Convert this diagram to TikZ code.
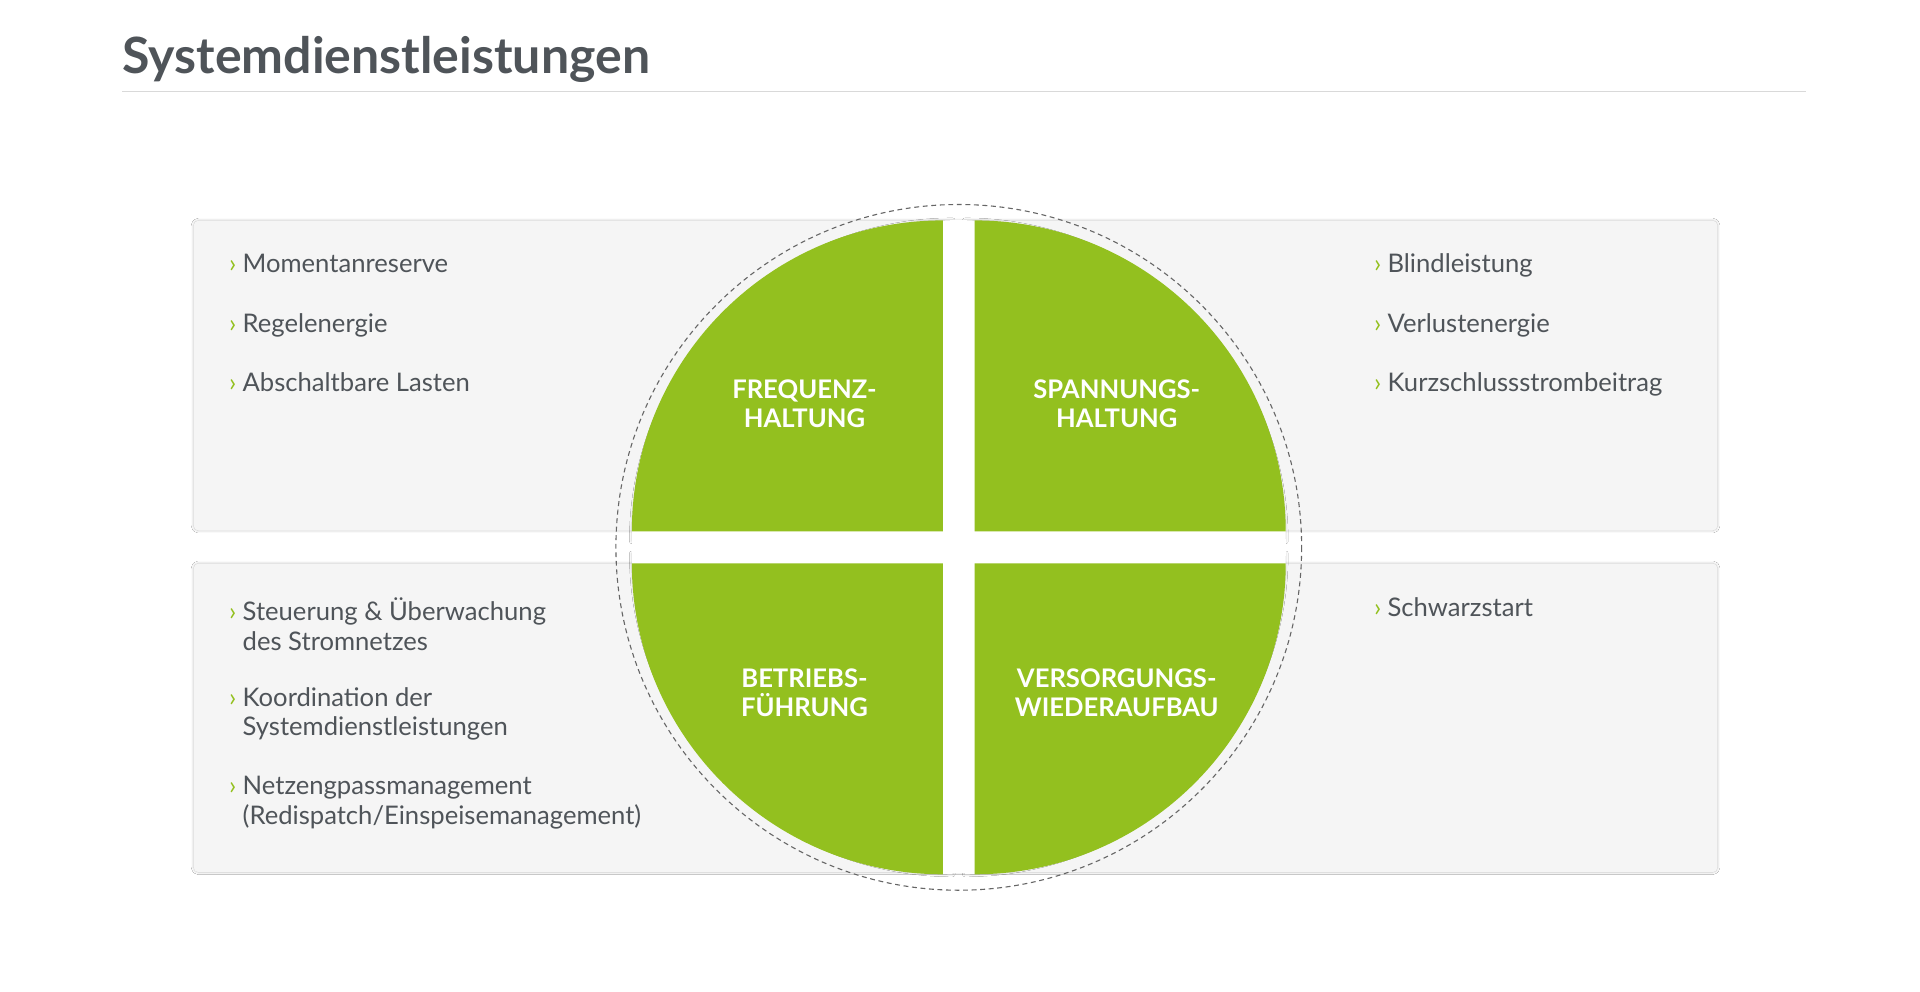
\documentclass[tikz,border=0pt]{standalone}
\usepackage{fontspec}
\setmainfont{Lato}
\usetikzlibrary{shadows.blur}
\definecolor{grn}{HTML}{93C01F}
\definecolor{txt}{HTML}{4F5459}
\definecolor{boxc}{HTML}{F5F5F5}
\begin{document}
\begin{tikzpicture}[x=1bp,y=-1bp,
  box/.style={fill=boxc,draw=none,rounded corners=4,blur shadow={shadow blur steps=6,shadow xshift=0,shadow yshift=0,shadow opacity=25}},
  halo/.style={fill=white,blur shadow={shadow blur steps=6,shadow xshift=0,shadow yshift=0,shadow opacity=20}},
  item/.style={anchor=north west,align=left,text=txt,font=\fontsize{21}{24.5}\selectfont,inner sep=0},
  lab/.style={align=center,text=white,font=\bfseries\fontsize{21}{24}\selectfont}]
\useasboundingbox[fill=white] (0,0) rectangle (1568,810);
\node[anchor=base west,inner sep=0,text=txt,font=\bfseries\fontsize{41}{44}\selectfont] (title) at (100,60) {Systemdienstleistungen};
\draw[gray!30,line width=1] (100,75) coordinate (l1) -- (1475,75) coordinate (l2);
\node[box,minimum width=1249,minimum height=254,anchor=north west,inner sep=0] (top) at (158,180) {};
\node[box,minimum width=1249,minimum height=253,anchor=north west,inner sep=0] (bot) at (158,460) {};
% white halo
\fill[halo] (778,442) -- (516,442) arc[start angle=180,end angle=270,radius=262] -- cycle;
\fill[halo] (788,442) -- (788,180) arc[start angle=270,end angle=360,radius=262] -- cycle;
\fill[halo] (778,452) -- (778,714) arc[start angle=90,end angle=180,radius=262] -- cycle;
\fill[halo] (788,452) -- (1050,452) arc[start angle=0,end angle=90,radius=262] -- cycle;
\fill[white] (776,180) rectangle (790,713);
\fill[white] (516,440) rectangle (1050,454);
\draw[gray!80!black,line width=0.9,dash pattern=on 4pt off 3pt] (783,447) circle (280);
% quarters
\fill[grn] (770,434) -- (516,434) arc[start angle=180,end angle=270,radius=254] -- cycle;
\fill[grn] (796,434) -- (796,180) arc[start angle=270,end angle=360,radius=254] -- cycle;
\fill[grn] (770,460) -- (770,714) arc[start angle=90,end angle=180,radius=254] -- cycle;
\fill[grn] (796,460) -- (1050,460) arc[start angle=0,end angle=90,radius=254] -- cycle;
\node[lab] (q1) at (657,330) {FREQUENZ-\\HALTUNG};
\node[lab] (q2) at (912,330) {SPANNUNGS-\\HALTUNG};
\node[lab] (q3) at (657,566) {BETRIEBS-\\FÜHRUNG};
\node[lab] (q4) at (912,566) {VERSORGUNGS-\\WIEDERAUFBAU};
\newcommand{\chev}{\makebox[11bp][l]{\textcolor{grn}{›}}}
\node[item] (a1) at (187,207) {\chev Momentanreserve};
\node[item] (a2) at (187,256) {\chev Regelenergie};
\node[item] (a3) at (187,304) {\chev Abschaltbare Lasten};
\node[item] (b1) at (1122,207) {\chev Blindleistung};
\node[item] (b2) at (1122,256) {\chev Verlustenergie};
\node[item] (b3) at (1122,304) {\chev Kurzschlussstrombeitrag};
\node[item] (c1) at (187,488) {\chev Steuerung \& Überwachung\\\hspace*{11bp}des Stromnetzes};
\node[item] (c2) at (187,561) {\chev Koordination der\\\hspace*{11bp}Systemdienstleistungen};
\node[item] (c3) at (187,634) {\chev Netzengpassmanagement\\\hspace*{11bp}(Redispatch/Einspeisemanagement)};
\node[item] (d1) at (1122,488) {\chev Schwarzstart};
\end{tikzpicture}
\end{document}
